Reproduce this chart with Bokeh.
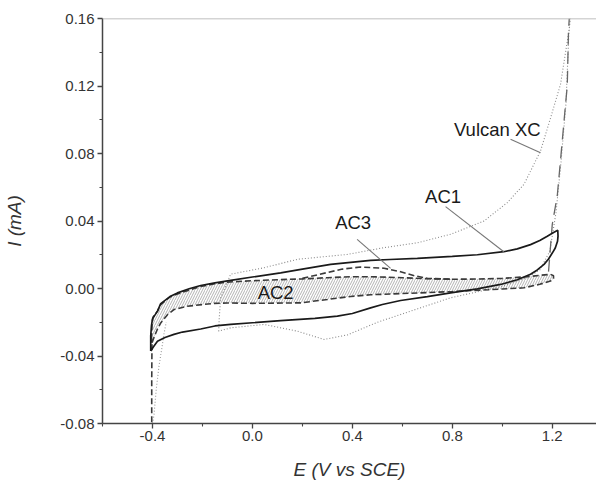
from bokeh.plotting import figure
from bokeh.models import Span, FixedTicker, Range1d
from bokeh.embed import file_html
from bokeh.resources import INLINE
from bokeh.core.properties import value

# ---------------- data ----------------
# AC1 : solid loop (anodic sweep then cathodic sweep)
ac1_x = [-0.407, -0.407, -0.404, -0.400, -0.380, -0.367, -0.330, -0.300, -0.250, -0.207,
         -0.150, -0.087, 0.000, 0.113, 0.200, 0.313, 0.393, 0.473, 0.550, 0.660,
         0.800, 0.900, 1.006, 1.060, 1.113, 1.150, 1.180, 1.205, 1.222,
         1.223, 1.221, 1.212, 1.200, 1.185, 1.167, 1.140, 1.113, 1.060, 0.993,
         0.900, 0.793, 0.700, 0.593, 0.520, 0.473, 0.400, 0.340, 0.250, 0.113,
         0.000, -0.087, -0.150, -0.207, -0.280, -0.314, -0.350, -0.380, -0.396, -0.407]
ac1_y = [-0.0370, -0.0280, -0.0220, -0.0180, -0.0134, -0.0090, -0.0048, -0.0026, 0.0000, 0.0018,
         0.0033, 0.0048, 0.0068, 0.0093, 0.0115, 0.0143, 0.0155, 0.0167, 0.0172, 0.0179,
         0.0190, 0.0200, 0.0218, 0.0235, 0.0260, 0.0284, 0.0310, 0.0332, 0.0345,
         0.0310, 0.0280, 0.0240, 0.0210, 0.0175, 0.0143, 0.0110, 0.0084, 0.0052, 0.0024,
         -0.0002, -0.0026, -0.0048, -0.0071, -0.0095, -0.0115, -0.0148, -0.0164, -0.0177, -0.0190,
         -0.0203, -0.0213, -0.0222, -0.0240, -0.0258, -0.0272, -0.0290, -0.0312, -0.0345, -0.0370]

# AC2 : hatched band, upper and lower branches
ac2_up_x = [-0.404, -0.402, -0.398, -0.380, -0.367, -0.330, -0.300, -0.250, -0.207, -0.150,
            -0.100, 0.000, 0.100, 0.200, 0.300, 0.400, 0.500, 0.600, 0.700, 0.800,
            0.900, 1.000, 1.100, 1.150, 1.193, 1.205]
ac2_up_y = [-0.0300, -0.0220, -0.0170, -0.0134, -0.0095, -0.0050, -0.0032, -0.0008, 0.0012, 0.0028,
            0.0038, 0.0046, 0.0052, 0.0057, 0.0064, 0.0070, 0.0069, 0.0064, 0.0058, 0.0055,
            0.0056, 0.0060, 0.0070, 0.0078, 0.0084, 0.0076]
ac2_lo_x = [-0.404, -0.394, -0.380, -0.367, -0.340, -0.314, -0.260, -0.200, -0.153, -0.100,
            0.000, 0.193, 0.300, 0.393, 0.473, 0.600, 0.800, 1.000, 1.087, 1.150,
            1.193, 1.205]
ac2_lo_y = [-0.0330, -0.0290, -0.0240, -0.0204, -0.0155, -0.0125, -0.0105, -0.0095, -0.0088, -0.0086,
            -0.0088, -0.0085, -0.0065, -0.0047, -0.0037, -0.0030, -0.0018, -0.0003, 0.0004, 0.0025,
            0.0044, 0.0060]
# AC2 cathodic tail (grey dotted)
ac2_tail_x = [-0.400, -0.394, -0.385, -0.374, -0.362, -0.354, -0.345]
ac2_tail_y = [-0.0800, -0.0750, -0.0600, -0.0460, -0.0350, -0.0270, -0.0200]

# AC3 : dashed curve (anodic bump, cathodic tail, anodic rise)
ac3_bump_x = [0.200, 0.300, 0.360, 0.433, 0.527, 0.593, 0.650, 0.700, 0.800]
ac3_bump_y = [0.0060, 0.0095, 0.0115, 0.0127, 0.0120, 0.0099, 0.0075, 0.0060, 0.0055]
ac3_tail_x = [-0.402, -0.403, -0.403]
ac3_tail_y = [-0.0330, -0.0550, -0.0800]
ac3_rise_x = [1.185, 1.200, 1.220, 1.233, 1.253, 1.260, 1.265, 1.268]
ac3_rise_y = [0.0100, 0.0380, 0.0550, 0.0760, 0.1090, 0.1200, 0.1530, 0.1600]

# Vulcan XC : fine dotted loop
vxc_x = [-0.135, -0.133, -0.127, -0.107, -0.087, 0.047, 0.180, 0.380, 0.527, 0.660,
         0.793, 0.927, 1.020, 1.087, 1.153, 1.193, 1.233, 1.267, 1.272,
         1.266, 1.255, 1.235, 1.215, 1.190, 1.150, 1.100, 0.993, 0.793, 0.593,
         0.500, 0.420, 0.380, 0.287, 0.180, 0.047, -0.087, -0.135]
vxc_y = [-0.0253, -0.0180, -0.0055, 0.0014, 0.0085, 0.0123, 0.0173, 0.0202, 0.0242, 0.0271,
         0.0321, 0.0400, 0.0509, 0.0618, 0.0815, 0.1010, 0.1210, 0.1530, 0.1600,
         0.1500, 0.1100, 0.0750, 0.0450, 0.0220, 0.0110, 0.0064, 0.0010, -0.0055, -0.0154,
         -0.0200, -0.0250, -0.0275, -0.0302, -0.0253, -0.0213, -0.0233, -0.0253]

# curve labels and their leader lines
lab_text = ["AC1", "AC3", "Vulcan XC", "AC2"]
lab_x = [0.763, 0.403, 0.980, 0.093]
lab_y = [0.0545, 0.0391, 0.0940, -0.0026]
lead_x0 = [0.773, 0.419, 1.033]
lead_y0 = [0.0485, 0.0291, 0.0885]
lead_x1 = [1.006, 0.553, 1.153]
lead_y1 = [0.0218, 0.0119, 0.0805]

# axes
x_ticks = [-0.4, 0.0, 0.4, 0.8, 1.2]
x_tick_labels = ["-0.4", "0.0", "0.4", "0.8", "1.2"]
x_minor = [-0.6, -0.2, 0.2, 0.6, 1.0]
y_ticks = [-0.08, -0.04, 0.0, 0.04, 0.08, 0.12, 0.16]
y_tick_labels = ["-0.08", "-0.04", "0.00", "0.04", "0.08", "0.12", "0.16"]
y_minor = [-0.06, -0.02, 0.02, 0.06, 0.10, 0.14]
x_title = "E (V vs SCE)"
y_title = "I (mA)"

# ---------------- figure ----------------
FONT = "Liberation Sans"
p = figure(width=596, height=484, output_backend="svg", toolbar_location=None,
           x_range=Range1d(-0.6, 1.377), y_range=Range1d(-0.08, 0.16),
           min_border_left=102, min_border_right=0, min_border_top=18, min_border_bottom=61)
p.xgrid.visible = False
p.ygrid.visible = False
p.outline_line_color = None
p.background_fill_color = "white"
p.border_fill_color = "white"

p.add_layout(Span(location=0.16, dimension="width", line_color="#aaaaaa", line_width=1.5))

# hatched band (AC2)
band_x = ac2_up_x + ac2_lo_x[::-1]
band_y = ac2_up_y + ac2_lo_y[::-1]
p.patch(band_x, band_y, fill_color=None, fill_alpha=0, line_color=None,
        hatch_pattern="/", hatch_color="#a0a0a0", hatch_scale=5, hatch_weight=0.8)
p.line(band_x + [band_x[0]], band_y + [band_y[0]], line_color="#3a3a3a", line_width=1.6,
       line_dash="6 3")
p.line(ac2_tail_x, ac2_tail_y, line_color="#999999", line_width=1.1, line_dash="1 2")

# Vulcan XC
p.line(vxc_x, vxc_y, line_color="#8a8a8a", line_width=1.1, line_dash="1 2")

# AC3
p.line(ac3_bump_x, ac3_bump_y, line_color="#3a3a3a", line_width=1.6, line_dash="6 3")
p.line(ac3_tail_x, ac3_tail_y, line_color="#3a3a3a", line_width=1.6, line_dash="6 3")
p.line(ac3_rise_x, ac3_rise_y, line_color="#666666", line_width=1.3, line_dash="12 7")

# AC1
p.line(ac1_x, ac1_y, line_color="#1a1a1a", line_width=1.7)

# leaders + labels
p.segment(lead_x0, lead_y0, lead_x1, lead_y1, line_color="#777777", line_width=1.1)
p.text(lab_x, lab_y, text=lab_text, text_font=value(FONT), text_font_size="18.5px",
       text_color="#1a1a1a", text_align="center", text_baseline="middle")

# axes styling
for ax in (p.xaxis[0], p.yaxis[0]):
    ax.axis_line_color = "#444444"
    ax.axis_line_width = 1.5
    ax.major_tick_line_color = "#444444"
    ax.minor_tick_line_color = "#444444"
    ax.major_tick_line_width = 1.3
    ax.minor_tick_line_width = 1.1
    ax.major_tick_in = 0
    ax.major_tick_out = 5
    ax.minor_tick_in = 0
    ax.minor_tick_out = 3
    ax.major_label_text_font = FONT
    ax.major_label_text_font_size = "15px"
    ax.major_label_text_color = "#333333"
    ax.axis_label_text_font = FONT
    ax.axis_label_text_font_size = "19px"
    ax.axis_label_text_font_style = "italic"
    ax.axis_label_text_color = "#333333"

p.xaxis.ticker = FixedTicker(ticks=x_ticks, minor_ticks=x_minor)
p.yaxis.ticker = FixedTicker(ticks=y_ticks, minor_ticks=y_minor)
p.xaxis.major_label_overrides = dict(zip(x_ticks, x_tick_labels))
p.yaxis.major_label_overrides = dict(zip(y_ticks, y_tick_labels))
p.xaxis.axis_label = x_title
p.yaxis.axis_label = y_title
p.xaxis.major_label_standoff = 2
p.xaxis.axis_label_standoff = 15
p.yaxis.major_label_standoff = 3
p.yaxis.axis_label_standoff = 32

open("out.html", "w").write(file_html(p, INLINE))
